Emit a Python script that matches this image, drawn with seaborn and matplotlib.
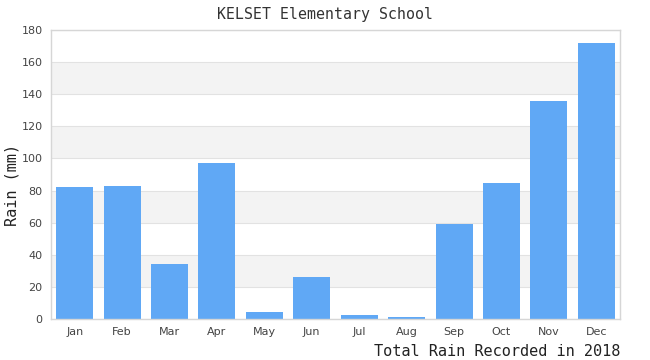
import numpy as np
import pandas as pd
import matplotlib
matplotlib.use("Agg")
import matplotlib.pyplot as plt
import seaborn as sns

months = ['Jan', 'Feb', 'Mar', 'Apr', 'May', 'Jun',
          'Jul', 'Aug', 'Sep', 'Oct', 'Nov', 'Dec']
rain_mm = [82.2, 82.9, 34.3, 97.1, 4.4, 26.3, 2.5, 1.3, 59.3, 84.8, 135.7, 171.9]
y_ticks = [0, 20, 40, 60, 80, 100, 120, 140, 160, 180]

df = pd.DataFrame({'month': months, 'rain': rain_mm})

sns.set_style("white")
fig = plt.figure(figsize=(6.5, 3.6), dpi=100)
ax = fig.add_axes([51/650, 41/360, 569/650, 289/360])

# alternating grey bands
for lo in range(20, 180, 40):
    ax.axhspan(lo, lo + 20, color='#f3f3f3', zorder=0, lw=0)
for t in y_ticks:
    ax.axhline(t, color='#e2e2e2', lw=0.8, zorder=0.5)

sns.barplot(data=df, x='month', y='rain', color='#60a8f5', saturation=1,
            width=0.78, ax=ax, zorder=2, edgecolor='none', linewidth=0)

ax.set_ylim(0, 180)
ax.set_xlim(-0.5, 11.5)
ax.set_yticks(y_ticks)
ax.tick_params(axis='both', labelsize=8, colors='#444444', length=0, pad=6)
for s in ax.spines.values():
    s.set_color('#d6d6d6')
    s.set_linewidth(1)

ax.set_ylabel('')
ax.set_xlabel('')
fig.text(12/650, 175/360, 'Rain (mm)', family='DejaVu Sans Mono', fontsize=11,
         color='#222222', ha='center', va='center', rotation=90)
fig.text(620/650, 8/360, 'Total Rain Recorded in 2018', family='DejaVu Sans Mono',
         fontsize=11, color='#222222', ha='right', va='center')
fig.text(0.5, 346/360, 'KELSET Elementary School', family='DejaVu Sans Mono',
         fontsize=10.7, color='#333333', ha='center', va='center')

fig.savefig('out.png', dpi=100)
